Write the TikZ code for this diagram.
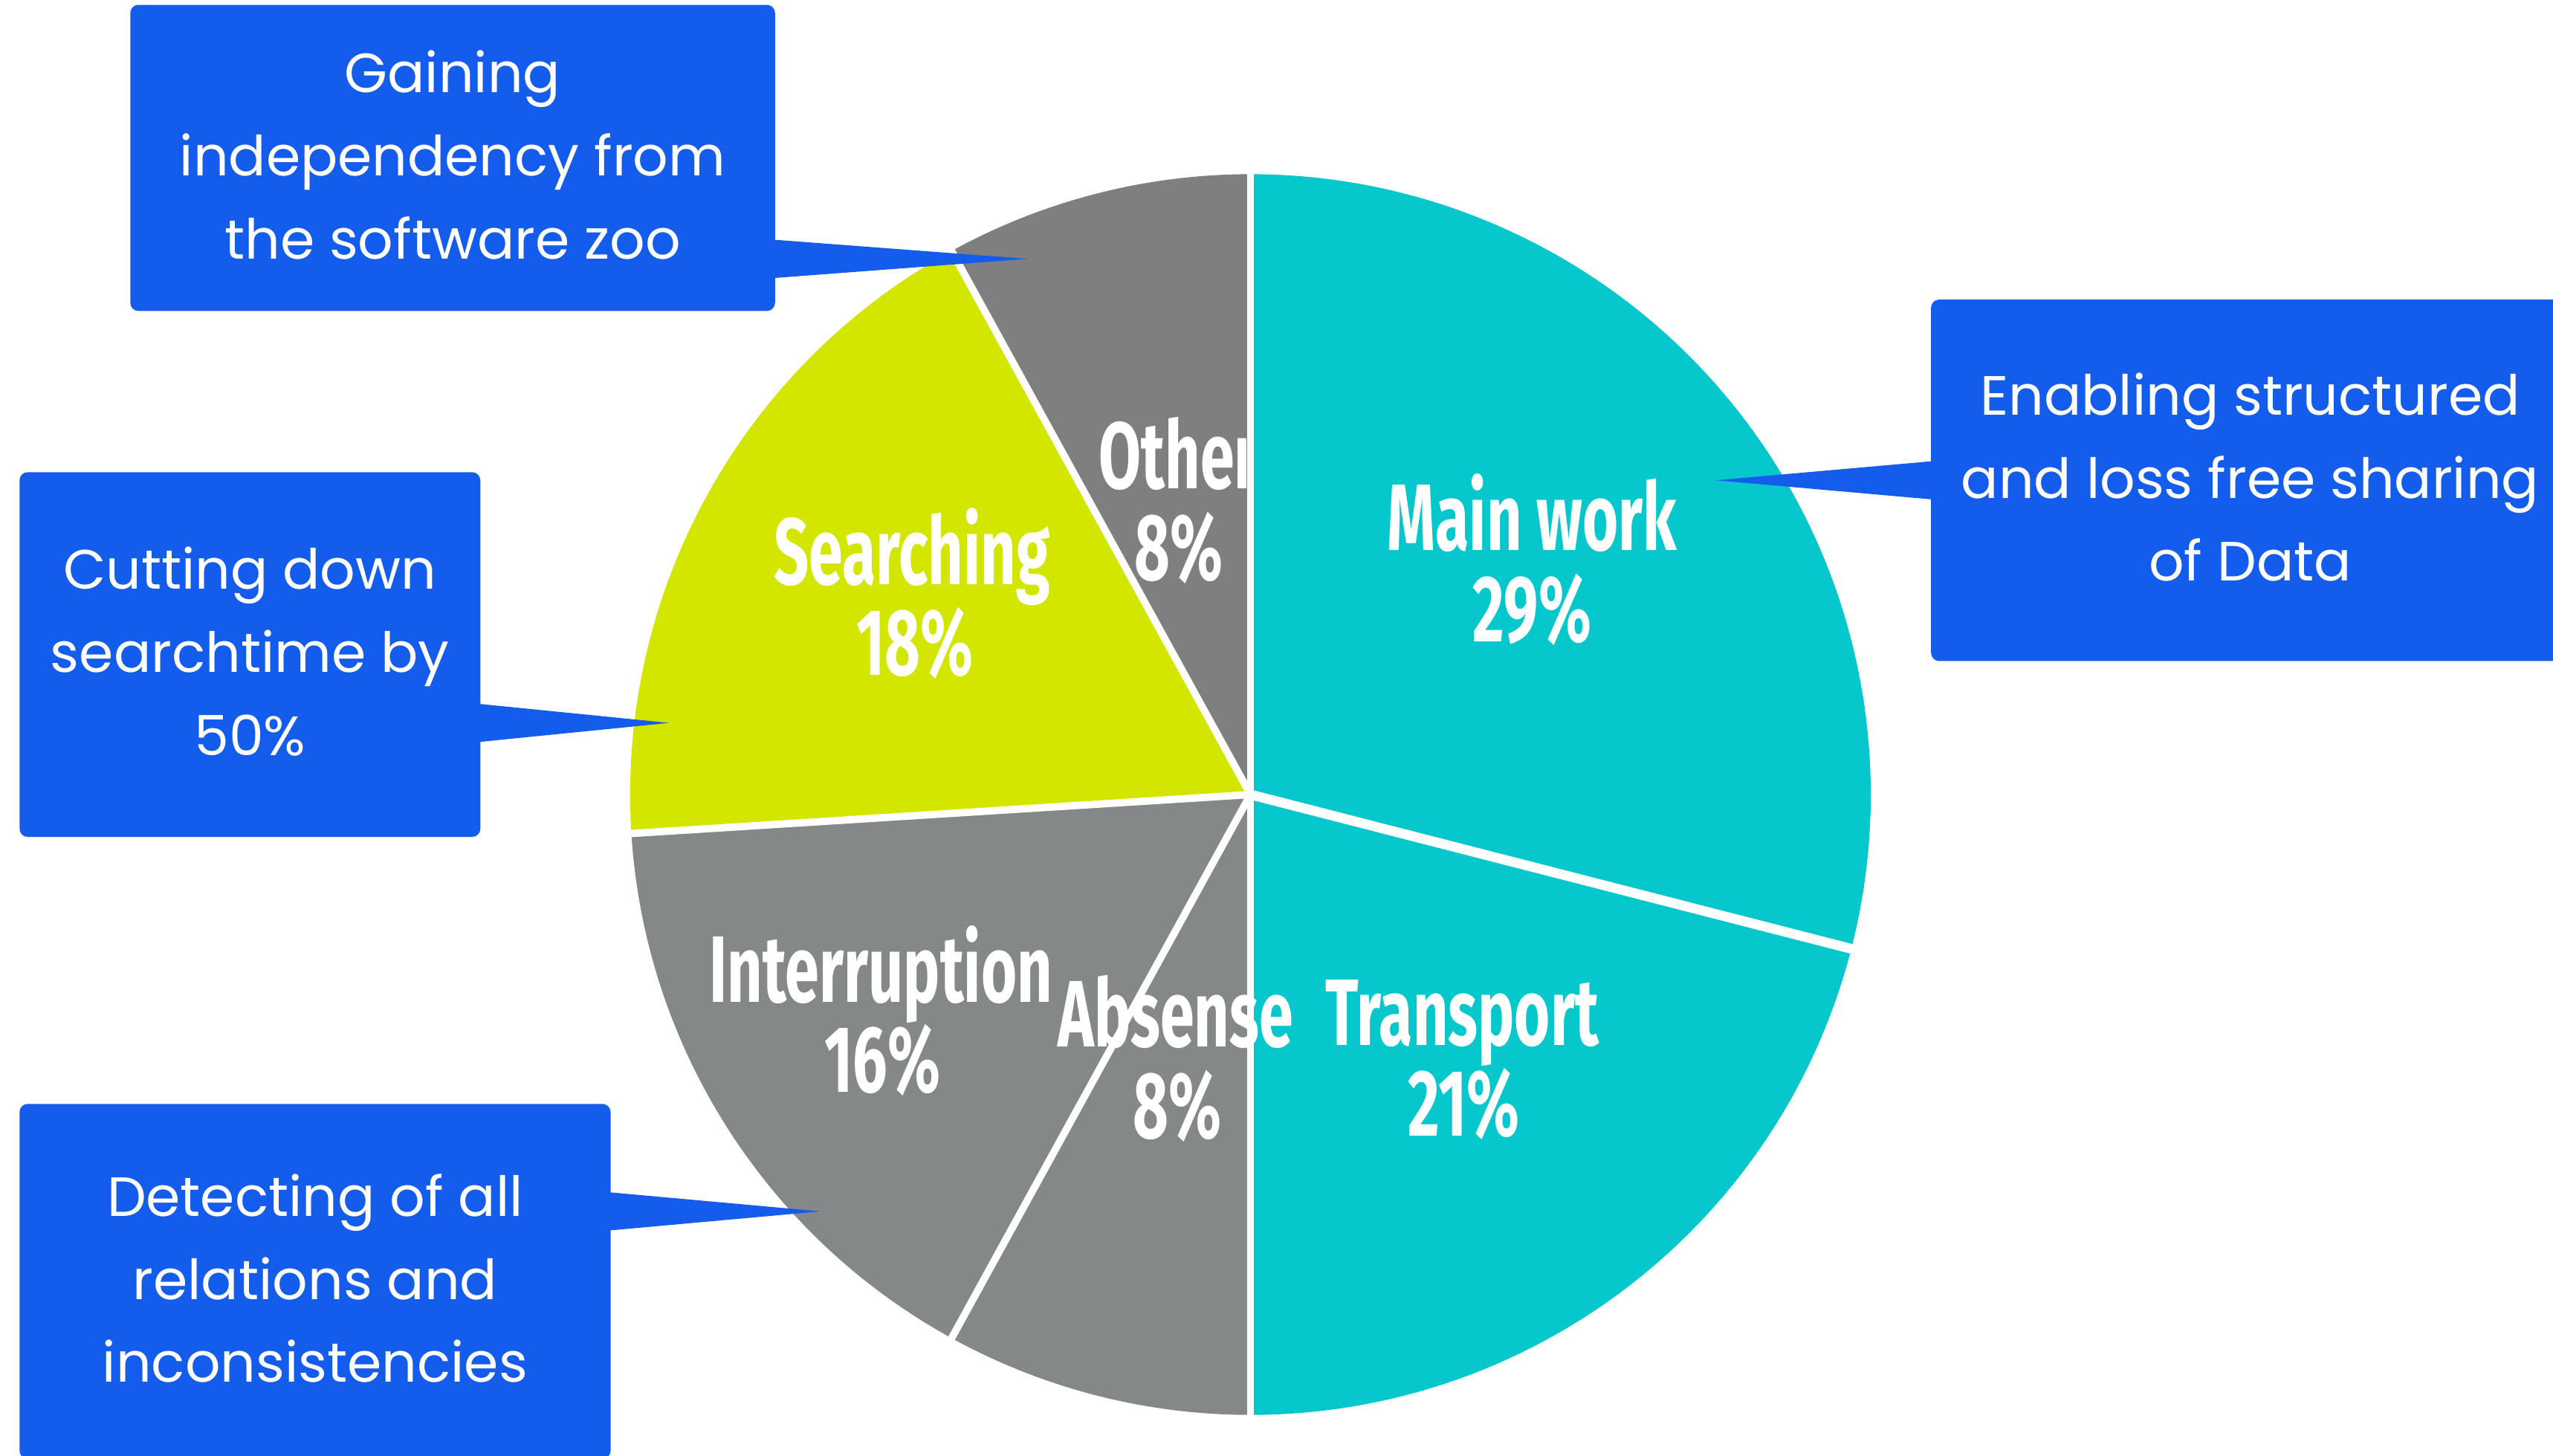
\documentclass[tikz,border=0pt]{standalone}
\usepackage{fontspec}
\setmainfont{Poppins}
\newfontfamily\piefont[FakeStretch=0.65]{Fira Sans}
\usetikzlibrary{calc}
\definecolor{cyanc}{HTML}{06C7CC}
\definecolor{limec}{HTML}{D2E600}
\definecolor{greyA}{HTML}{7E7F7E}
\definecolor{greyB}{HTML}{858889}
\definecolor{bluec}{HTML}{145CEB}
\newcommand{\lowfix}{\rule[-4pt]{0pt}{4pt}}
\tikzset{
  sep/.style={draw=white,line width=4.5pt},
  pielabel/.style={anchor=base,text=white,inner sep=0pt,font=\piefont\bfseries\fontsize{58}{56}\selectfont},
  callout/.style={fill=bluec,rounded corners=5pt,text=white,align=center,inner sep=0pt,
    font=\fontsize{34}{51}\selectfont},
  pointer/.style={fill=bluec}
}
\begin{document}
\begin{tikzpicture}[x=1pt,y=1pt]
\useasboundingbox (0,0) rectangle (1568,894);
\clip (0,0) rectangle (1568,894);
\coordinate (c) at (768,406);
% slices
\fill[cyanc] (c) -- ++(90:381pt) arc[start angle=90,end angle=-14.4,radius=381pt] -- cycle;
\fill[cyanc] (c) -- ++(-14.4:381pt) arc[start angle=-14.4,end angle=-90,radius=381pt] -- cycle;
\fill[greyB] (c) -- ++(-90:381pt) arc[start angle=-90,end angle=-118.8,radius=381pt] -- cycle;
\fill[greyB] (c) -- ++(-118.8:381pt) arc[start angle=-118.8,end angle=-176.4,radius=381pt] -- cycle;
\fill[limec] (c) -- ++(-176.4:381pt) arc[start angle=-176.4,end angle=-241.2,radius=381pt] -- cycle;
\fill[greyA] (c) -- ++(118.8:381pt) arc[start angle=118.8,end angle=90,radius=381pt] -- cycle;
% separators
\draw[sep] (c) -- ++(90:390pt);
\draw[sep,line width=6pt] (c) -- ++(-14.4:390pt);
\draw[sep] (c) -- ++(-90:390pt);
\draw[sep] (c) -- ++(-118.8:390pt);
\draw[sep] (c) -- ++(-176.4:390pt);
\draw[sep] (c) -- ++(118.8:390pt);
% labels
\node[pielabel] (mainwork) at (941,556) {Main work};
\node[pielabel] (mainworkpct) at (941,500) {29\%};
\begin{scope}
\clip (0,0) rectangle (765.5,894);
\node[pielabel] (other) at (724,594) {Other};
\end{scope}
\node[pielabel] (otherpct) at (724,537.5) {8\%};
\node[pielabel] (searching) at (560,535) {Searching};
\node[pielabel] (searchingpct) at (562,479.5) {18\%};
\node[pielabel] (interruption) at (541,278.5) {Interruption};
\node[pielabel] (interruptionpct) at (542,223) {16\%};
\node[pielabel] (absense) at (722,251) {Absense};
\node[pielabel] (absensepct) at (723,195) {8\%};
\node[pielabel] (transport) at (898,252) {Transport};
\node[pielabel] (transportpct) at (899,196.5) {21\%};
% callouts
\node[callout,minimum width=396pt,minimum height=188pt] (box1) at (278,797)
  {Gaining\\independency from\\the software zoo\lowfix};
\node[callout,minimum width=392pt,minimum height=222pt] (box2) at (1382,599)
  {Enabling structured\\and loss free sharing\\of Data\lowfix};
\node[callout,minimum width=283pt,minimum height=224pt] (box3) at (153.5,492)
  {Cutting down\\searchtime by\\50\%\lowfix};
\node[callout,minimum width=363pt,minimum height=218pt] (box4) at (193.5,107)
  {Detecting of all\\relations and\\inconsistencies\lowfix};
% pointers
\coordinate (tip1) at (631,735);
\coordinate (tip2) at (1054,599);
\coordinate (tip3) at (411,450);
\coordinate (tip4) at (504,150);
\fill[pointer] ($(box1.east)+(-4,-50)$) -- (tip1) -- ($(box1.east)+(-4,-74)$) -- cycle;
\fill[pointer] ($(box2.west)+(4,12)$) -- (tip2) -- ($(box2.west)+(4,-12)$) -- cycle;
\fill[pointer] ($(box3.east)+(-4,-30)$) -- (tip3) -- ($(box3.east)+(-4,-54)$) -- cycle;
\fill[pointer] ($(box4.east)+(-4,55)$) -- (tip4) -- ($(box4.east)+(-4,31)$) -- cycle;
\end{tikzpicture}
\end{document}
